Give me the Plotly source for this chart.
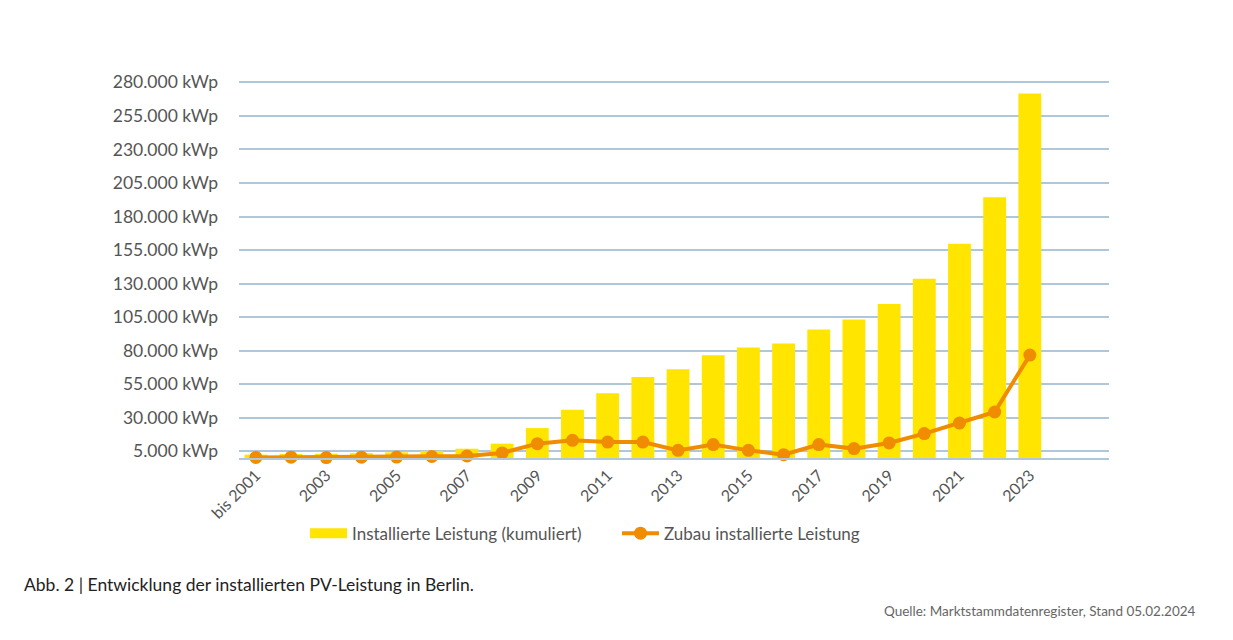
import plotly.graph_objects as go

# categories
years = ["bis 2001"] + [str(y) for y in range(2002, 2024)]

# Installierte Leistung (kumuliert), kWp
kumuliert = [2500, 3000, 3200, 3600, 4200, 5300, 6900, 10700, 22300, 36000,
             48200, 60300, 66200, 76500, 82400, 85400, 95800, 103300, 114700,
             133600, 159600, 194400, 271600]

# Zubau installierte Leistung, kWp
zubau = [400, 600, 300, 600, 700, 1100, 1500, 3800, 10700, 13200,
         11900, 11900, 5700, 10000, 5700, 2500, 10000, 7000, 11200,
         18200, 26000, 34300, 76700]

y_ticks = list(range(5000, 280001, 25000))
y_ticktext = [f"{v:,}".replace(",", ".") + " kWp" for v in y_ticks]
x_ticks = years[::2]

yellow = "#FFE500"
orange = "#F08C00"
grid = "#AFC7D8"
text_col = "#555555"
font_family = "Lato, 'Open Sans', sans-serif"

fig = go.Figure()

fig.add_trace(go.Bar(
    x=years, y=kumuliert,
    name="Installierte Leistung (kumuliert)",
    marker=dict(color=yellow, line=dict(width=0)),
    width=0.65,
    showlegend=False,
))

# legend entry with a wide yellow swatch like the original
fig.add_trace(go.Scatter(
    x=[None], y=[None],
    name="Installierte Leistung (kumuliert)",
    mode="lines",
    line=dict(color=yellow, width=14),
    legend="legend",
))

fig.add_trace(go.Scatter(
    x=years, y=zubau,
    name="Zubau installierte Leistung",
    mode="lines+markers",
    line=dict(color=orange, width=4),
    marker=dict(color=orange, size=13),
    cliponaxis=False,
    legend="legend2",
))

legend_style = dict(
    orientation="h", yanchor="middle", xanchor="left",
    font=dict(size=17, color=text_col), bgcolor="rgba(0,0,0,0)",
    itemwidth=37,
)

fig.update_layout(
    width=1217, height=624,
    margin=dict(l=231, r=116, t=73, b=174),
    paper_bgcolor="white", plot_bgcolor="white",
    font=dict(family=font_family, color=text_col, size=16),
    showlegend=True,
    legend=dict(x=0.0759, y=-0.2006, **legend_style),
    legend2=dict(x=0.4345, y=-0.2006, **legend_style),
    annotations=[
        dict(text="Abb. 2 | Entwicklung der installierten PV-Leistung in Berlin.",
             xref="paper", yref="paper", x=-0.2494, y=-0.336,
             xanchor="left", yanchor="middle", showarrow=False,
             font=dict(size=17.5, color="#222222")),
        dict(text="Quelle: Marktstammdatenregister, Stand 05.02.2024",
             xref="paper", yref="paper", x=1.1023, y=-0.405,
             xanchor="right", yanchor="middle", showarrow=False,
             font=dict(size=13.5, color="#666666")),
    ],
)

fig.update_xaxes(
    type="category",
    range=[-0.48, 24.25],
    tickmode="array", tickvals=x_ticks, ticktext=x_ticks,
    tickangle=-45,
    tickfont=dict(size=16, color=text_col),
    showgrid=False,
    showline=True, linecolor=grid, linewidth=1.5,
    ticks="",
)

fig.update_yaxes(
    range=[0, 281000],
    tickmode="array", tickvals=y_ticks, ticktext=y_ticktext,
    tickfont=dict(size=17.5, color=text_col),
    showgrid=True, gridcolor=grid, gridwidth=1.5,
    zeroline=False,
    ticks="",
    ticklabelstandoff=20,
)

fig.write_html("out.html")
